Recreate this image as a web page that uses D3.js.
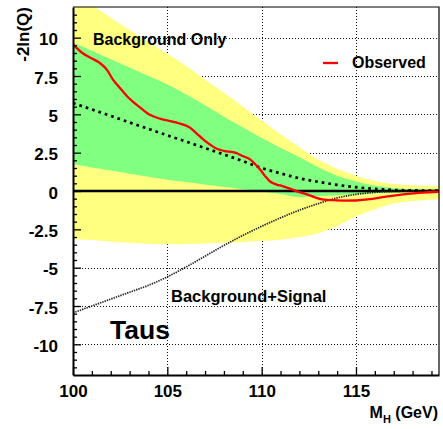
<!DOCTYPE html>
<html lang="en">
<head>
<meta charset="UTF-8">
<title>Taus -2ln(Q)</title>
<style>
	body { margin: 0; background: #fff; }
	text { font-family: "Liberation Sans", Arial, Helvetica, sans-serif; font-weight: bold; }
</style>
</head>
<body>
<script src="https://cdn.jsdelivr.net/npm/d3@7"></script>
<script>
	// band masses
	var mass = [100, 101, 102, 103, 104, 105, 106, 107, 108, 109, 110, 111, 112, 113, 114, 115, 116, 117, 118, 119.4];
	// 2 sigma and 1 sigma bands, background-only
	var yellowHi = [12.9, 12.1, 11.3, 10.5, 9.7, 8.95, 8.15, 7.25, 6.4, 5.5, 4.6, 3.7, 2.85, 2.05, 1.45, 1.0, 0.65, 0.45, 0.37, 0.33];
	var greenHi = [9.7, 9.15, 8.6, 8.05, 7.5, 6.95, 6.3, 5.6, 4.85, 4.15, 3.45, 2.8, 2.2, 1.55, 1.0, 0.62, 0.35, 0.2, 0.13, 0.11];
	var greenLo = [1.74, 1.53, 1.33, 1.13, 0.93, 0.74, 0.58, 0.43, 0.28, 0.12, -0.03, -0.2, -0.4, -0.35, -0.28, -0.22, -0.15, -0.11, -0.09, -0.08];
	var yellowLo = [-3.15, -3.2, -3.3, -3.38, -3.45, -3.48, -3.45, -3.42, -3.38, -3.32, -3.25, -3.18, -3.0, -2.75, -2.3, -1.65, -1.2, -0.82, -0.65, -0.54];
	// expected medians
	var bgExp = [5.73, 5.32, 4.9, 4.47, 4.05, 3.63, 3.22, 2.8, 2.38, 1.95, 1.5, 1.15, 0.83, 0.6, 0.4, 0.25, 0.14, 0.07, 0.04, 0.02];
	var sbExp = [-7.95, -7.5, -7.05, -6.6, -6.15, -5.6, -4.95, -4.25, -3.55, -2.9, -2.3, -1.75, -1.25, -0.82, -0.45, -0.22, -0.09, -0.03, -0.01, 0];
	// observed
	var obsMass = [100, 100.5, 100.9, 101.4, 101.8, 102.1, 102.5, 102.85, 103.2, 103.55, 104.1, 104.6, 105.1, 105.6, 106.2, 106.6, 106.9, 107.3, 107.6, 108.0, 108.6, 109.0, 109.4, 109.7, 109.95, 110.2, 110.45, 110.8, 111.1, 111.5, 112.0, 112.4, 112.8, 113.2, 113.8, 114.4, 115.0, 115.6, 116.2, 116.8, 117.6, 118.5, 119.4];
	var obs = [9.57, 9.0, 8.7, 8.37, 7.9, 7.3, 6.7, 6.2, 5.8, 5.45, 4.95, 4.72, 4.57, 4.42, 4.13, 3.7, 3.37, 3.0, 2.77, 2.62, 2.5, 2.28, 2.05, 1.7, 1.35, 0.95, 0.62, 0.42, 0.32, 0.15, -0.07, -0.22, -0.4, -0.54, -0.6, -0.63, -0.62, -0.55, -0.45, -0.33, -0.2, -0.1, -0.05];
	// ticks
	var xMajor = [100, 105, 110, 115];
	var xLabels = ["100", "105", "110", "115"];
	var yMajor = [10, 7.5, 5, 2.5, 0, -2.5, -5, -7.5, -10];
	var yLabels = ["10", "7.5", "5", "2.5", "0", "-2.5", "-5", "-7.5", "-10"];

	var width = 443, height = 429;
	var plotL = 73, plotR = 439, plotT = 7, plotB = 375;

	var svg = d3.select("body").append("svg")
		.attr("width", width).attr("height", height);

	var x = d3.scaleLinear().domain([100, 119.4]).range([plotL, plotR]);
	var y = d3.scaleLinear().domain([-12, 12]).range([plotB, plotT]);

	svg.append("clipPath").attr("id", "clip")
		.append("rect").attr("x", plotL).attr("y", plotT).attr("width", plotR - plotL).attr("height", plotB - plotT);

	//grid
	var grid = svg.append("g").attr("stroke", "#111").attr("stroke-width", 1).attr("stroke-dasharray", "1,2");
	grid.selectAll(".gx").data(xMajor.slice(1)).enter().append("line")
		.attr("x1", function(d){ return Math.round(x(d)) + 0.5; }).attr("x2", function(d){ return Math.round(x(d)) + 0.5; })
		.attr("y1", plotT).attr("y2", plotB);
	grid.selectAll(".gy").data(yMajor.filter(function(d){ return d != 0; })).enter().append("line")
		.attr("y1", function(d){ return Math.round(y(d)) + 0.5; }).attr("y2", function(d){ return Math.round(y(d)) + 0.5; })
		.attr("x1", plotL).attr("x2", plotR);

	var plot = svg.append("g").attr("clip-path", "url(#clip)");
	var idx = d3.range(mass.length);

	function band(lo, hi){
		return d3.area().curve(d3.curveMonotoneX)
			.x(function(i){ return x(mass[i]); })
			.y0(function(i){ return y(lo[i]); })
			.y1(function(i){ return y(hi[i]); })(idx);
	}
	plot.append("path").attr("d", band(yellowLo, yellowHi)).attr("fill", "#ffff80");
	plot.append("path").attr("d", band(greenLo, greenHi)).attr("fill", "#80ff80");

	// zero line
	plot.append("line").attr("x1", plotL).attr("x2", plotR).attr("y1", y(0)).attr("y2", y(0))
		.attr("stroke", "#000").attr("stroke-width", 2.6);

	function curve(xs, ys){
		return d3.line().curve(d3.curveMonotoneX)
			.x(function(i){ return x(xs[i]); })
			.y(function(i){ return y(ys[i]); })(d3.range(xs.length));
	}
	plot.append("path").attr("d", curve(mass, sbExp)).attr("fill", "none")
		.attr("stroke", "#222").attr("stroke-width", 1.7).attr("stroke-dasharray", "1.4,1");
	plot.append("path").attr("d", curve(mass, bgExp)).attr("fill", "none")
		.attr("stroke", "#000").attr("stroke-width", 2.7).attr("stroke-dasharray", "2.7,4");
	plot.append("path").attr("d", curve(obsMass, obs)).attr("fill", "none")
		.attr("stroke", "#ff0000").attr("stroke-width", 2.3);

	// frame top and right
	svg.append("path").attr("d", "M" + plotL + "," + plotT + "H" + plotR + "V" + plotB)
		.attr("fill", "none").attr("stroke", "#000").attr("stroke-width", 1.2);

	// axes, ticks inside
	var xAxis = svg.append("g").attr("transform", "translate(0," + plotB + ")")
		.call(d3.axisBottom(x).tickValues(xMajor).tickSizeInner(-8).tickSizeOuter(0).tickPadding(5)
			.tickFormat(function(d, i){ return xLabels[i]; }));
	svg.append("g").attr("transform", "translate(0," + plotB + ")")
		.call(d3.axisBottom(x).tickValues(d3.range(101, 120).filter(function(d){ return d % 5 != 0; }))
			.tickSizeInner(-4).tickSizeOuter(0).tickFormat(""))
		.select(".domain").remove();
	var yAxis = svg.append("g").attr("transform", "translate(" + plotL + ",0)")
		.call(d3.axisLeft(y).tickValues(yMajor).tickSizeInner(-8).tickSizeOuter(0).tickPadding(15)
			.tickFormat(function(d, i){ return yLabels[i]; }));
	svg.append("g").attr("transform", "translate(" + plotL + ",0)")
		.call(d3.axisLeft(y).tickValues(d3.range(-23, 24).map(function(d){ return d * 0.5; }).filter(function(d){ return d % 2.5 != 0; }))
			.tickSizeInner(-4).tickSizeOuter(0).tickFormat(""))
		.select(".domain").remove();

	svg.selectAll(".domain").attr("stroke-width", 2);
	svg.selectAll(".tick line").attr("stroke-width", 1.3);
	xAxis.selectAll("text").attr("font-size", 17).attr("font-family", null).attr("fill", "#000").attr("dy", "1.0em");
	yAxis.selectAll("text").attr("font-size", 17).attr("font-family", null).attr("fill", "#000").attr("dy", "0.42em");

	// labels
	svg.append("text").attr("transform", "translate(29," + plotT + ") rotate(-90)")
		.attr("text-anchor", "end").attr("font-size", 17).text("-2ln(Q)");
	var xl = svg.append("text").attr("x", 438).attr("y", 418).attr("text-anchor", "end").attr("font-size", 16);
	xl.append("tspan").text("M");
	xl.append("tspan").attr("font-size", 11).attr("dy", 5).text("H");
	xl.append("tspan").attr("dy", -5).text(" (GeV)");

	svg.append("text").attr("x", 93).attr("y", 45).attr("font-size", 16).text("Background Only");
	svg.append("text").attr("x", 171).attr("y", 302).attr("font-size", 16.5).text("Background+Signal");
	svg.append("text").attr("x", 110).attr("y", 339).attr("font-size", 26.5).text("Taus");

	// legend
	svg.append("line").attr("x1", 323).attr("x2", 338).attr("y1", 63).attr("y2", 63)
		.attr("stroke", "#ff0000").attr("stroke-width", 2.3);
	svg.append("text").attr("x", 352).attr("y", 68).attr("font-size", 16).text("Observed");
</script>
</body>
</html>
